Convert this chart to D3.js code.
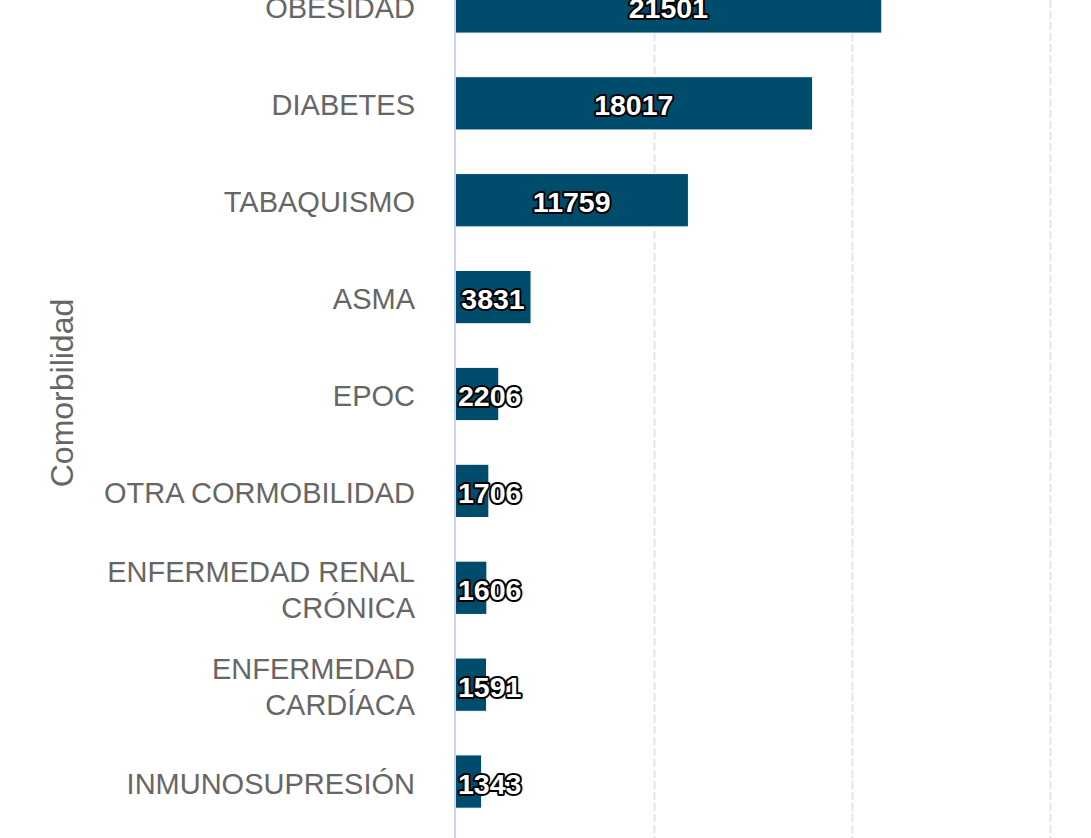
<!DOCTYPE html>
<html>
<head>
<meta charset="utf-8">
<script src="https://cdn.jsdelivr.net/npm/d3@7"></script>
<style>
  html, body { margin: 0; padding: 0; background: #ffffff; overflow: hidden; }
  svg { display: block; }
</style>
</head>
<body>
<svg id="chart" width="1091" height="838"></svg>
<script>
// ---- data ----
const categories = [
  "OBESIDAD",
  "DIABETES",
  "TABAQUISMO",
  "ASMA",
  "EPOC",
  "OTRA CORMOBILIDAD",
  "ENFERMEDAD RENAL CRÓNICA",
  "ENFERMEDAD CARDÍACA",
  "INMUNOSUPRESIÓN"
];
const values = [21501, 18017, 11759, 3831, 2206, 1706, 1606, 1591, 1343];
const gridTicks = [10000, 20000, 30000];
const axisTitle = "Comorbilidad";

// ---- layout ----
const W = 1091, H = 838;
const svg = d3.select("#chart");
const FONT = "'Liberation Sans', Arial, Helvetica, sans-serif";

const x = d3.scaleLinear().domain([0, 32000]).range([455, 455 + 32000 * 0.01985]);
const y = d3.scaleBand().domain(categories).range([-42, 830])
  .paddingInner(0.45).paddingOuter(0.225);

// grid lines
svg.append("g").selectAll("line").data(gridTicks).join("line")
  .attr("x1", d => Math.round(x(d)) + 0.5).attr("x2", d => Math.round(x(d)) + 0.5)
  .attr("y1", 0).attr("y2", H)
  .attr("stroke", "#e6e6e6").attr("stroke-width", 2)
  .attr("stroke-dasharray", "8,3");

// bars
const data = categories.map((c, i) => ({ c, v: values[i] }));
svg.append("g").selectAll("rect").data(data).join("rect")
  .attr("x", x(0))
  .attr("y", d => y(d.c))
  .attr("width", d => x(d.v) - x(0))
  .attr("height", y.bandwidth())
  .attr("fill", "#004c6d")
  .attr("stroke", "#ffffff").attr("stroke-width", 1);

// axis line
svg.append("line")
  .attr("x1", x(0)).attr("x2", x(0))
  .attr("y1", 0).attr("y2", H)
  .attr("stroke", "#ccd6eb").attr("stroke-width", 2);

// category labels (wrapped)
const labelG = svg.append("g")
  .attr("font-family", FONT).attr("font-size", 29).attr("fill", "#666666")
  .attr("text-anchor", "end");
const maxW = 330;
data.forEach(d => {
  const t = labelG.append("text").attr("x", 415);
  const words = d.c.split(" ");
  const lines = [];
  let cur = [];
  const probe = labelG.append("text").style("visibility", "hidden");
  words.forEach(w => {
    const test = cur.concat([w]).join(" ");
    probe.text(test);
    if (probe.node().getComputedTextLength() > maxW && cur.length) {
      lines.push(cur.join(" "));
      cur = [w];
    } else cur.push(w);
  });
  lines.push(cur.join(" "));
  probe.remove();
  const c = y(d.c) + y.bandwidth() / 2;
  const lh = 36.5;
  const base = lines.length === 1 ? c + 12 : c - 6;
  lines.forEach((ln, i) => {
    t.append("tspan").attr("x", 415).attr("y", base + i * lh).text(ln);
  });
});

// axis title
svg.append("text")
  .attr("transform", "translate(73,393) rotate(-90)")
  .attr("text-anchor", "middle")
  .attr("font-family", FONT).attr("font-size", 32).attr("fill", "#666666")
  .text(axisTitle);

// data labels
const dl = svg.append("g")
  .attr("font-family", FONT).attr("font-size", 28.5).attr("font-weight", "bold")
  .attr("text-anchor", "middle");
data.forEach(d => {
  const t = dl.append("text")
    .attr("fill", "#ffffff").attr("stroke", "#000000").attr("stroke-width", 4)
    .attr("stroke-linejoin", "round").attr("paint-order", "stroke")
    .text(d.v);
  const w = t.node().getComputedTextLength();
  const center = (x(0) + x(d.v)) / 2;
  const cx = Math.max(center, x(0) + 3 + w / 2);
  t.attr("x", cx).attr("y", y(d.c) + y.bandwidth() / 2 + 12);
});
</script>
</body>
</html>
